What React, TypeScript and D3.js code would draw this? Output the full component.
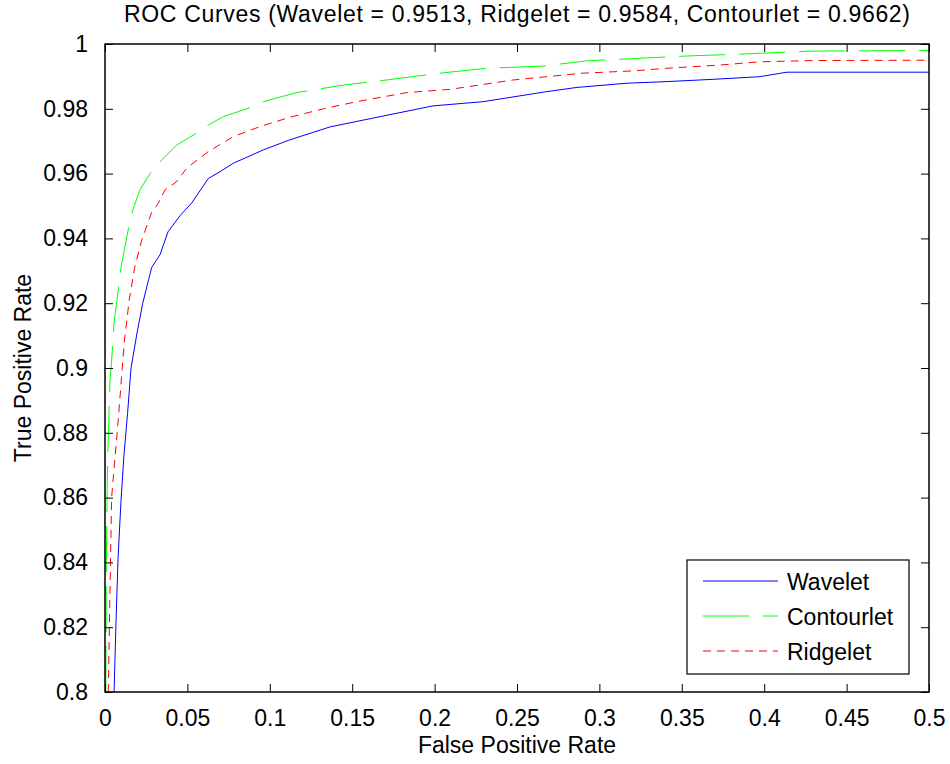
import * as d3 from 'd3'
import { useRef, useEffect } from 'react'

// series names, AUC values (title) and curve points [fpr, tpr]
const seriesNames = ['Wavelet', 'Contourlet', 'Ridgelet']
const aucValues = { Wavelet: 0.9513, Ridgelet: 0.9584, Contourlet: 0.9662 }

const waveletPoints = [
  [0.0055, 0.8], [0.0067, 0.822], [0.0079, 0.841], [0.0097, 0.859], [0.0115, 0.873],
  [0.0137, 0.886], [0.0158, 0.9], [0.0195, 0.911], [0.0229, 0.92], [0.0283, 0.931],
  [0.0334, 0.935], [0.0382, 0.942], [0.0455, 0.947], [0.0527, 0.951], [0.0627, 0.9585],
  [0.0698, 0.9606], [0.0779, 0.9632], [0.096, 0.9673], [0.112, 0.9704], [0.1365, 0.9744],
  [0.1566, 0.9765], [0.199, 0.9809], [0.2294, 0.9822], [0.268, 0.9853], [0.2864, 0.9866],
  [0.3167, 0.9879], [0.341, 0.9884], [0.369, 0.9891], [0.397, 0.9899], [0.4138, 0.9913],
  [0.5, 0.9913],
]

const contourletPoints = [
  [0.0005, 0.8], [0.0008, 0.84], [0.0015, 0.87], [0.0025, 0.887], [0.003, 0.896],
  [0.004, 0.902], [0.0055, 0.914], [0.0085, 0.926], [0.01, 0.932], [0.0146, 0.944],
  [0.017, 0.949], [0.0212, 0.955], [0.0273, 0.96], [0.0344, 0.9642], [0.0435, 0.9688],
  [0.0546, 0.9722], [0.0627, 0.975], [0.0718, 0.9776], [0.086, 0.98], [0.096, 0.9822],
  [0.1163, 0.985], [0.1444, 0.9873], [0.171, 0.9889], [0.2033, 0.991], [0.2316, 0.9925],
  [0.266, 0.9932], [0.2923, 0.9948], [0.3246, 0.9956], [0.353, 0.9963], [0.387, 0.9969],
  [0.4278, 0.9978], [0.5, 0.998],
]

const ridgeletPoints = [
  [0.002, 0.8], [0.003, 0.83], [0.004, 0.86], [0.0077, 0.882], [0.0117, 0.908],
  [0.0147, 0.921], [0.018, 0.931], [0.0223, 0.9395], [0.0283, 0.948], [0.0323, 0.9508],
  [0.0364, 0.955], [0.0435, 0.9575], [0.0496, 0.9617], [0.0627, 0.9668], [0.0778, 0.9714],
  [0.094, 0.9745], [0.1123, 0.9774], [0.1325, 0.98], [0.1527, 0.9822], [0.183, 0.985],
  [0.2094, 0.986], [0.2478, 0.9889], [0.29, 0.991], [0.3204, 0.9917], [0.3408, 0.9925],
  [0.373, 0.9935], [0.397, 0.9945], [0.43, 0.9949], [0.5, 0.995],
]

const xTicks = [0, 0.05, 0.1, 0.15, 0.2, 0.25, 0.3, 0.35, 0.4, 0.45, 0.5]
const yTicks = [0.8, 0.82, 0.84, 0.86, 0.88, 0.9, 0.92, 0.94, 0.96, 0.98, 1]

const width = 950
const height = 764
const margin = { left: 105, right: 21, top: 44, bottom: 72 }
const font = 'Arial, "Liberation Sans", Helvetica, sans-serif'

const App = () => {
  const svgRef = useRef<SVGSVGElement>(null)

  useEffect(() => {
    const svg = d3.select(svgRef.current)
    svg.selectAll('*').remove() // clear

    const plotW = width - margin.left - margin.right
    const plotH = height - margin.top - margin.bottom

    const xScale = d3.scaleLinear().domain([0, 0.5]).range([margin.left, margin.left + plotW])
    const yScale = d3.scaleLinear().domain([0.8, 1]).range([margin.top + plotH, margin.top])

    svg.append('rect').attr('width', width).attr('height', height).attr('fill', '#fff')

    svg
      .append('clipPath')
      .attr('id', 'plot-clip')
      .append('rect')
      .attr('x', margin.left)
      .attr('y', margin.top)
      .attr('width', plotW)
      .attr('height', plotH)

    // curves
    const styles: Record<string, { color: string; dash: string | null }> = {
      Wavelet: { color: '#0000ff', dash: null },
      Contourlet: { color: '#00ff00', dash: '46,14' },
      Ridgelet: { color: '#ff0000', dash: '8,6' },
    }
    const pointsByName: Record<string, number[][]> = {
      Wavelet: waveletPoints,
      Contourlet: contourletPoints,
      Ridgelet: ridgeletPoints,
    }

    const line = d3
      .line<number[]>()
      .x(d => xScale(d[0]))
      .y(d => yScale(d[1]))

    const curves = svg.append('g').attr('clip-path', 'url(#plot-clip)')
    seriesNames.forEach(name => {
      curves
        .append('path')
        .datum(pointsByName[name])
        .attr('d', line)
        .attr('fill', 'none')
        .attr('stroke', styles[name].color)
        .attr('stroke-width', 1)
        .attr('stroke-dasharray', styles[name].dash)
    })

    // axes: ticks inward on all four sides
    const tickLen = 8
    const axisColor = '#000'
    const bottom = svg.append('g').attr('transform', `translate(0, ${margin.top + plotH})`)
    bottom
      .call(d3.axisBottom(xScale).tickValues(xTicks).tickSize(-tickLen).tickPadding(tickLen + 10).tickFormat(d3.format('~g')))
    const top = svg.append('g').attr('transform', `translate(0, ${margin.top})`)
    top.call(d3.axisTop(xScale).tickValues(xTicks).tickSize(-tickLen).tickFormat(() => ''))
    const left = svg.append('g').attr('transform', `translate(${margin.left}, 0)`)
    left.call(d3.axisLeft(yScale).tickValues(yTicks).tickSize(-tickLen).tickPadding(tickLen + 9).tickFormat(d3.format('~g')))
    const right = svg.append('g').attr('transform', `translate(${margin.left + plotW}, 0)`)
    right.call(d3.axisRight(yScale).tickValues(yTicks).tickSize(-tickLen).tickFormat(() => ''))

    svg.selectAll('.domain').remove()
    svg.selectAll('.tick line').attr('stroke', axisColor)
    svg
      .selectAll('.tick text')
      .attr('font-family', font)
      .attr('font-size', 23)
      .attr('fill', '#000')

    svg
      .append('rect')
      .attr('x', margin.left)
      .attr('y', margin.top)
      .attr('width', plotW)
      .attr('height', plotH)
      .attr('fill', 'none')
      .attr('stroke', axisColor)
      .attr('stroke-width', 1.5)

    // title and axis labels
    svg
      .append('text')
      .attr('x', margin.left + plotW / 2)
      .attr('y', 22)
      .attr('text-anchor', 'middle')
      .attr('font-family', font)
      .attr('font-size', 23)
      .attr('textLength', 786)
      .attr('lengthAdjust', 'spacing')
      .text(
        `ROC Curves (Wavelet = ${aucValues.Wavelet}, Ridgelet = ${aucValues.Ridgelet}, Contourlet = ${aucValues.Contourlet})`
      )

    svg
      .append('text')
      .attr('x', margin.left + plotW / 2)
      .attr('y', 753)
      .attr('text-anchor', 'middle')
      .attr('font-family', font)
      .attr('font-size', 23)
      .text('False Positive Rate')

    svg
      .append('text')
      .attr('transform', `translate(31, ${margin.top + plotH / 2}) rotate(-90)`)
      .attr('text-anchor', 'middle')
      .attr('font-family', font)
      .attr('font-size', 23)
      .text('True Positive Rate')

    // legend
    const legend = svg.append('g').attr('transform', 'translate(687, 560)')
    legend
      .append('rect')
      .attr('width', 222)
      .attr('height', 114)
      .attr('fill', '#fff')
      .attr('stroke', '#000')
      .attr('stroke-width', 1.2)
    seriesNames.forEach((name, i) => {
      const yy = 21 + i * 35
      legend
        .append('line')
        .attr('x1', 16)
        .attr('x2', 91)
        .attr('y1', yy)
        .attr('y2', yy)
        .attr('stroke', styles[name].color)
        .attr('stroke-dasharray', styles[name].dash)
      legend
        .append('text')
        .attr('x', 100)
        .attr('y', yy + 9)
        .attr('font-family', font)
        .attr('font-size', 23)
        .text(name)
    })
  }, [])

  return (
    <svg
      ref={svgRef}
      width={width}
      height={height}
      style={{ position: 'absolute', left: 0, top: 0 }}
    ></svg>
  )
}

export default App
